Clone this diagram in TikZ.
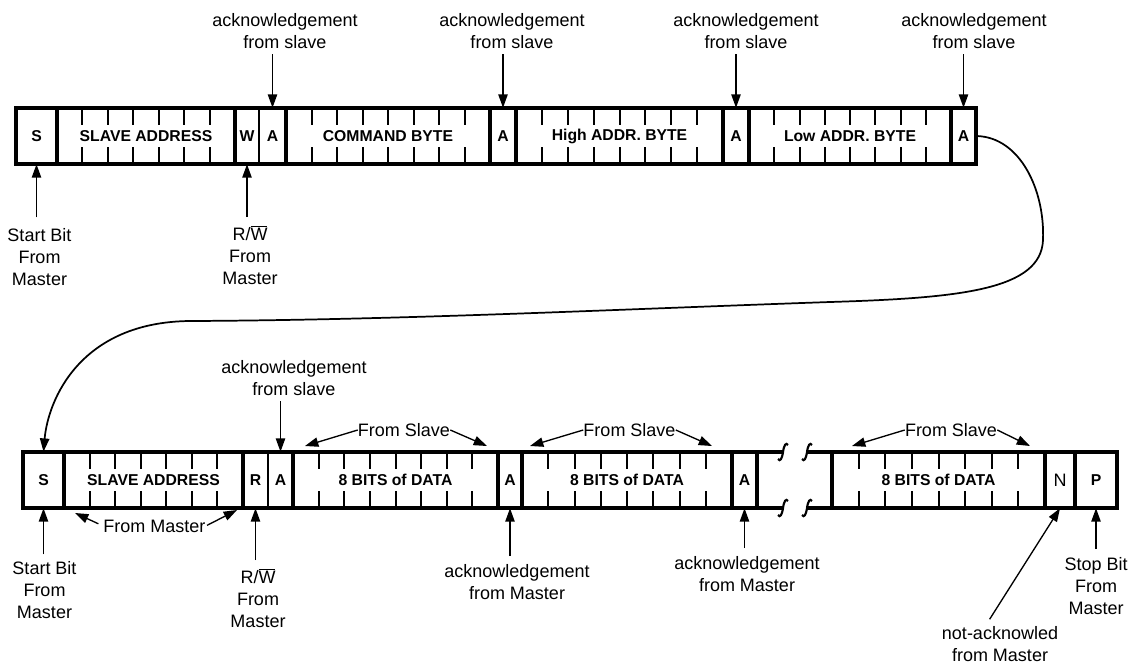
\documentclass[tikz,border=0pt]{standalone}
\usepackage{fontspec}
\setmainfont{Liberation Sans}
\usetikzlibrary{arrows.meta}

% row lines and labels
\tikzset{
  frame/.style={line width=2.3pt, line join=miter},
  sep/.style={line width=2.3pt},
  thinsep/.style={line width=1.2pt},
  tick/.style={line width=1.5pt},
  brk/.style={line width=1.6pt},
  field/.style={inner sep=0pt, minimum height=42pt, font=\fontsize{11.8}{14}\selectfont\bfseries},
  abit/.style={field, minimum width=19pt},
  note/.style={inner sep=0pt, align=center, font=\fontsize{13.5}{16.5}\selectfont},
  arr/.style={line width=1pt, -{Triangle[length=10pt,width=7pt]}},
}

% ticks of the bits: left x, bit width, number of ticks, top of the row
\newcommand{\bitticks}[4]{%
  \foreach \k in {1,...,#3}
    \draw[tick] ({#1+\k*#2},#4) -- ++(0,17) ({#1+\k*#2},#4+56) -- ++(0,-17);%
}
% broken line end: x, y
\newcommand{\brkmark}[2]{%
  \draw[brk] (#1-5,#2+7) .. controls (#1-3,#2+10) and (#1-1,#2+7) .. (#1,#2) .. controls (#1+1,#2-7) and (#1+3,#2-10) .. (#1+5,#2-7);%
}

\begin{document}
\begin{tikzpicture}[x=0.75pt,y=0.75pt,yscale=-1,xscale=1]
\useasboundingbox (0,0) rectangle (1130,665);

%Shape: Rectangle [top row]
\draw[frame] (16,108) rectangle (976,164);
%Straight Lines [field borders]
\foreach \x in {57,235,286,490,516,723,749,951}
  \draw[sep] (\x,108) -- (\x,164);
\draw[thinsep] (259,108) -- (259,164);
\bitticks{57}{25.43}{6}{108}
\bitticks{286}{25.5}{7}{108}
\bitticks{516}{25.875}{7}{108}
\bitticks{749}{25.25}{7}{108}

% Text Node
\node[field] (tS) at (36.5,136) {S};
\node[field] (tAddr) at (146,136) {SLAVE ADDRESS};
\node[field] (tW) at (247,136) {W};
\node[abit] (tA1) at (272.5,136) {A};
\node[field] (tCmd) at (388,136) {COMMAND BYTE};
\node[abit] (tA2) at (503,136) {A};
\node[field] (tHigh) at (619.5,136) {High ADDR. BYTE};
\node[abit] (tA3) at (736,136) {A};
\node[field] (tLow) at (850,136) {Low ADDR. BYTE};
\node[abit] (tA4) at (963.5,136) {A};

%Straight Lines [bottom row, broken]
\draw[frame] (783,452) -- (23,452) -- (23,508) -- (783,508);
\draw[frame] (807,452) -- (1117,452) -- (1117,508) -- (807,508);
\brkmark{783}{452} \brkmark{783}{508}
\brkmark{807}{452} \brkmark{807}{508}
\foreach \x in {64,243,293,498,522,732,757,832,1045,1075}
  \draw[sep] (\x,452) -- (\x,508);
\draw[thinsep] (268,452) -- (268,508);
\bitticks{64}{25.57}{6}{452}
\bitticks{293}{25.625}{7}{452}
\bitticks{522}{26.25}{7}{452}
\bitticks{832}{26.625}{7}{452}

% Text Node
\node[field] (bS) at (43.5,480) {S};
\node[field] (bAddr) at (153.5,480) {SLAVE ADDRESS};
\node[field] (bR) at (255.5,480) {R};
\node[abit] (bA1) at (280.5,480) {A};
\node[field] (bD1) at (395.5,480) {8 BITS of DATA};
\node[abit] (bA2) at (510,480) {A};
\node[field] (bD2) at (627,480) {8 BITS of DATA};
\node[abit] (bA3) at (744.5,480) {A};
\node[field] (bD3) at (938.5,480) {8 BITS of DATA};
\node[field, font=\fontsize{13.5}{16.5}\selectfont] (bN) at (1060,480) {N};
\node[field] (bP) at (1096,480) {P};

% Text Node [top notes]
\node[note, anchor=north] (ackT1) at (285,13) {acknowledgement\\from slave};
\node[note, anchor=north] (ackT2) at (512,13) {acknowledgement\\from slave};
\node[note, anchor=north] (ackT3) at (746,13) {acknowledgement\\from slave};
\node[note, anchor=north] (ackT4) at (974,13) {acknowledgement\\from slave};
\node[note, anchor=north] (startT) at (39.5,228) {Start Bit\\From\\Master};
\node[note, anchor=north] (rwT) at (250,225) {R/$\overline{\mbox{W}}$\\From\\Master};

%Straight Lines [top arrows]
\draw[arr, shorten <=4pt] (ackT1.south -| tA1) -- (tA1.north);
\draw[arr, shorten <=4pt] (ackT2.south -| tA2) -- (tA2.north);
\draw[arr, shorten <=4pt] (ackT3.south -| tA3) -- (tA3.north);
\draw[arr, shorten <=4pt] (ackT4.south -| tA4) -- (tA4.north);
\draw[arr, shorten <=8pt] (startT.north -| tS) -- (tS.south);
\draw[arr, shorten <=6pt] (rwT.north -| tW) -- (tW.south);

%Curve Lines [top row to bottom row]
\draw[arr, line width=1.3pt] (tA4.east) .. controls (1020,137) and (1045,190) .. (1043,240) .. controls (1041,290) and (960,298) .. (830,302) .. controls (600,310) and (400,320) .. (190,321) .. controls (80,322) and (48,400) .. (bS.north);

% Text Node [bottom notes]
\node[note, anchor=north] (ackB) at (294,360) {acknowledgement\\from slave};
\node[note] (fs1) at (404,430) {From Slave};
\node[note] (fs2) at (629.5,430) {From Slave};
\node[note] (fs3) at (951,430) {From Slave};
\node[note] (fm) at (154.5,526) {From Master};
\node[note, anchor=north] (startB) at (44.5,561) {Start Bit\\From\\Master};
\node[note, anchor=north] (rwB) at (258,568) {R/$\overline{\mbox{W}}$\\From\\Master};
\node[note, anchor=north] (ackM1) at (517,564) {acknowledgement\\from Master};
\node[note, anchor=north] (ackM2) at (747,556) {acknowledgement\\from Master};
\node[note, anchor=north] (nack) at (1000,626) {not-acknowled\\from Master};
\node[note, anchor=north] (stopB) at (1096,557) {Stop Bit\\From\\Master};

\coordinate (fs1l) at (305,446); \coordinate (fs1r) at (487,446);
\coordinate (fs2l) at (530,446); \coordinate (fs2r) at (712,446);
\coordinate (fs3l) at (852,446); \coordinate (fs3r) at (1030,446);
\coordinate (fml) at (75,513); \coordinate (fmr) at (237,510);

%Straight Lines [bottom arrows]
\draw[arr, shorten <=4pt] (ackB.south -| bA1) -- (bA1.north);
\draw[arr] (fs1.west) -- (fs1l);
\draw[arr] (fs1.east) -- (fs1r);
\draw[arr] (fs2.west) -- (fs2l);
\draw[arr] (fs2.east) -- (fs2r);
\draw[arr] (fs3.west) -- (fs3l);
\draw[arr] (fs3.east) -- (fs3r);
\draw[arr, shorten <=4pt] (fm.west) -- (fml);
\draw[arr, shorten <=1pt] (fm.east) -- (fmr);
\draw[arr, shorten <=5pt] (startB.north -| bS) -- (bS.south);
\draw[arr, shorten <=6pt] (rwB.north -| bR) -- (bR.south);
\draw[arr, shorten <=6pt] (ackM1.north -| bA2) -- (bA2.south);
\draw[arr, shorten <=6pt] (ackM2.north -| bA3) -- (bA3.south);
\draw[arr, shorten <=6pt] ([xshift=-11pt]nack.north) -- (bN.south);
\draw[arr, shorten <=6pt] (stopB.north -| bP) -- (bP.south);
\end{tikzpicture}
\end{document}
